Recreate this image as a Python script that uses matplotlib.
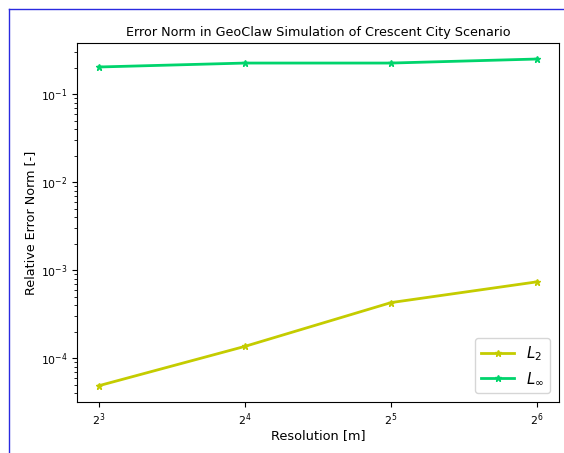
import matplotlib
matplotlib.use("Agg")
import matplotlib.pyplot as plt
from matplotlib.lines import Line2D

resolution = [8, 16, 32, 64]
l2_error = [4.9e-5, 1.37e-4, 4.3e-4, 7.4e-4]
linf_error = [0.203, 0.225, 0.225, 0.25]

W, H = 564, 453
fig = plt.figure(figsize=(W / 100, H / 100), dpi=100)
ax = fig.add_axes([77 / W, 1 - 402 / H, (559 - 77) / W, (402 - 43) / H])

ax.plot(resolution, l2_error, color="#c4cc00", marker="*", markersize=5, linewidth=2, label=r"$L_2$")
ax.plot(resolution, linf_error, color="#00d46c", marker="*", markersize=5, linewidth=2, label=r"$L_\infty$")
ax.set_xscale("log", base=2)
ax.set_yscale("log")
ax.set_ylim(3.2e-5, 0.38)
ax.set_xlabel("Resolution [m]", fontsize=9.3, labelpad=0.5)
ax.set_ylabel("Relative Error Norm [-]", fontsize=9.2, labelpad=2.5)
ax.set_title("Error Norm in GeoClaw Simulation of Crescent City Scenario", fontsize=9.2, pad=5)
ax.tick_params(labelsize=7.8)
ax.legend(loc="lower right", fontsize=10.8, borderaxespad=0.6, handlelength=2.2)

fig.add_artist(Line2D([9 / W, 1], [1 - 9 / H, 1 - 9 / H], color="#2a2ae0", linewidth=1))
fig.add_artist(Line2D([9 / W, 9 / W], [0, 1 - 9 / H], color="#2a2ae0", linewidth=1))

fig.savefig("out.png", dpi=100)
